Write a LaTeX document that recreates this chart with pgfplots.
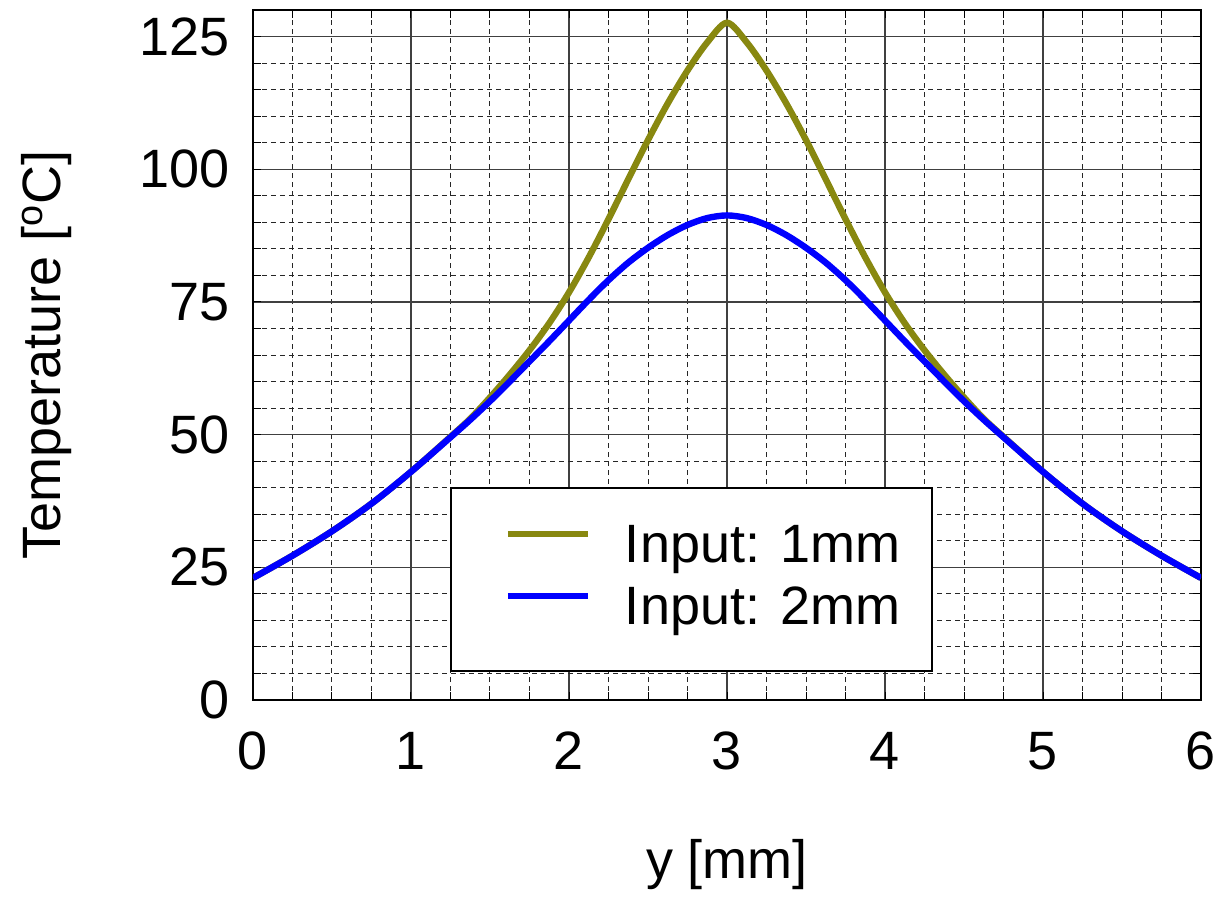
\documentclass[border=0pt]{standalone}
\usepackage{fontspec}
\setmainfont{Liberation Sans}
\usepackage{pgfplots}
\pgfplotsset{compat=1.18}
\definecolor{olivec}{RGB}{136,136,16}
\definecolor{bluec}{RGB}{0,0,255}
\pgfplotstableread{
x y
0 23.0
0.25 27.2
0.5 31.8
0.75 37.0
1 43.0
1.25 49.6
1.375 53.0
1.5 57.0
1.625 61.3
1.75 65.9
1.875 71.0
2 76.8
2.125 83.4
2.25 90.6
2.375 98.1
2.5 105.5
2.625 112.4
2.75 118.6
2.875 123.9
3 127.6
3.125 123.9
3.25 118.6
3.375 112.4
3.5 105.5
3.625 98.1
3.75 90.6
3.875 83.4
4 76.8
4.125 71.0
4.25 65.9
4.375 61.3
4.5 57.0
4.625 53.0
4.75 49.6
5 43.0
5.25 37.0
5.5 31.8
5.75 27.2
6 23.0
}\onemm
\pgfplotstableread{
x y
0 23.0
0.25 27.2
0.5 31.8
0.75 37.0
1 43.0
1.25 49.5
1.375 52.8
1.5 56.3
1.625 60.0
1.75 63.8
1.875 67.6
2 71.5
2.125 75.4
2.25 79.1
2.375 82.4
2.5 85.2
2.625 87.6
2.75 89.5
2.875 90.8
3 91.3
3.125 90.8
3.25 89.5
3.375 87.6
3.5 85.2
3.625 82.4
3.75 79.1
3.875 75.4
4 71.5
4.125 67.6
4.25 63.8
4.375 60.0
4.5 56.3
4.625 52.8
4.75 49.5
5 43.0
5.25 37.0
5.5 31.8
5.75 27.2
6 23.0
}\twomm
\begin{document}
\fontsize{27}{32}\selectfont
\begin{tikzpicture}
\path (-126.5pt,-96pt) rectangle (486pt,350pt);
\begin{axis}[
 at={(0pt,0pt)}, anchor=south west,
 width=474pt, height=345pt, scale only axis,
 xmin=0, xmax=6, ymin=0, ymax=130,
 xtick={0,1,2,3,4,5,6}, ytick={0,25,50,75,100,125},
 minor x tick num=3, minor y tick num=4,
 grid=both,
 major grid style={black!75, line width=0.6pt},
 minor grid style={black!85, line width=0.5pt, dash pattern=on 2.5pt off 2pt},
 axis line style={line width=1pt},
 tick style={black, line width=0.5pt},
 tick align=inside,
 major tick length=4pt, minor tick length=4pt,
 /pgf/number format/assume math mode=true,
 every tick label/.append style={font=\fontsize{27}{32}\selectfont},
 yticklabel style={inner sep=0pt, xshift=-11.5pt},
 xticklabel style={inner sep=0pt, yshift=-15.8pt},
 xlabel={y [mm]},
 ylabel={Temperature [\textsuperscript{o}C]},
 label style={font=\fontsize{27}{32}\selectfont},
 xlabel style={at={(axis description cs:0.5,-0.258)}, anchor=base},
 ylabel style={at={(axis description cs:-0.203,0.5)}, anchor=base},
 legend cell align=left,
 legend style={at={(axis description cs:0.2078,0.3087)}, anchor=north west,
   draw=black, line width=0.8pt, fill=white,
   inner xsep=16pt, inner ysep=18pt, row sep=6pt, column sep=17pt,
   nodes={inner sep=0pt, text height=0.72em, text depth=0.2em},
   font=\fontsize{27}{32}\selectfont},
 legend image code/.code={\path (0pt,0pt); \draw[#1, line width=3pt] (11pt,7.3pt) -- (51pt,7.3pt);},
]
\addplot[color=olivec, line width=3.2pt, smooth] table[x=x,y=y] {\onemm};
\addlegendentry{Input: 1mm}
\addplot[color=bluec, line width=3.2pt, smooth] table[x=x,y=y] {\twomm};
\addlegendentry{Input: 2mm}
\end{axis}
\end{tikzpicture}
\end{document}
